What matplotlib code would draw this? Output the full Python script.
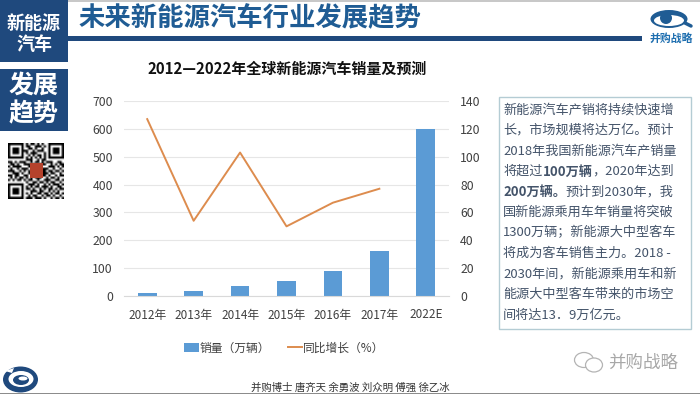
import numpy as np
import matplotlib
matplotlib.use('Agg')
import matplotlib.pyplot as plt
from matplotlib.patches import Rectangle, Ellipse, Circle, Polygon

plt.rcParams['font.family'] = ['Noto Sans CJK SC', 'DejaVu Sans']

years = ['2012年', '2013年', '2014年', '2015年', '2016年', '2017年', '2022E']
sales = [10, 18, 36, 54, 91, 162, 600]
growth = [127, 54, 103, 50, 67, 77]
left_ticks = [0, 100, 200, 300, 400, 500, 600, 700]
right_ticks = [0, 20, 40, 60, 80, 100, 120, 140]

body_lines = [
    '新能源汽车产销将持续快速增',
    '长，市场规模将达万亿。预计',
    '2018年我国新能源汽车产销量',
    '将超过$$100万辆$$，2020年达到',
    '$$200万辆。$$预计到2030年，我',
    '国新能源乘用车年销量将突破',
    '1300万辆；新能源大中型客车',
    '将成为客车销售主力。2018 -',
    '2030年间，新能源乘用车和新',
    '能源大中型客车带来的市场空',
    '间将达13．9万亿元。',
]

# rough module pattern of the qr code, 1 = dark
qr_rows = [
    '1111111010110101001111111',
    '1000001011001110101000001',
    '1011101001101001001011101',
    '1011101110010111001011101',
    '1011101010111000101011101',
    '1000001001010110101000001',
    '1111111010101010101111111',
    '0000000011100101100000000',
    '1101011100101101011100110',
    '0110100111010011100101011',
    '1011110001101110001110101',
    '0100101110011111110010010',
    '1110010101011111101101101',
    '0011101001111111110110010',
    '1101100110011111101001011',
    '0101011010101110010110100',
    '1010110101100100111001101',
    '0000000010011011010110010',
    '1111111001110100101011101',
    '1000001010101101110100110',
    '1011101011010010101101011',
    '1011101000111011001010100',
    '1011101010100110110101101',
    '1000001001011001011010010',
    '1111111011101110100101101',
]

BLUE = '#1f497d'
TEXT = '#44546a'
GREY = '#b4b4b4'

fig = plt.figure(figsize=(7, 3.94), dpi=100)
W, H = 700, 394


def px_axes(x0, y0, x1, y1):
    # axes placed by pixel box, y counted from the top
    return fig.add_axes([x0 / W, 1 - y1 / H, (x1 - x0) / W, (y1 - y0) / H])


# slide layer, in pixel coordinates
bg = fig.add_axes([0, 0, 1, 1])
bg.axis('off')

bg.add_patch(Rectangle((0, 0), W, 1.5, color='#c8c8c8', lw=0))
bg.add_patch(Rectangle((0, 0), 68, 62, color=BLUE, lw=0))
bg.add_patch(Rectangle((0, 69), 68, 62, color=BLUE, lw=0))
bg.add_patch(Rectangle((68, 36), 574, 5, color=BLUE, lw=0))

bg.text(34, 23, '新能源', color='white', fontsize=13, fontweight='bold', ha='center', va='center')
bg.text(34, 44.5, '汽车', color='white', fontsize=13, fontweight='bold', ha='center', va='center')
bg.text(34, 86, '发展', color='white', fontsize=18, fontweight='bold', ha='center', va='center')
bg.text(34, 114, '趋势', color='white', fontsize=18, fontweight='bold', ha='center', va='center')
bg.text(79, 19, '未来新能源汽车行业发展趋势', color='#1f5c94', fontsize=19, fontweight='bold', va='center')
bg.text(287, 68.5, '2012—2022年全球新能源汽车销量及预测', color='#111111', fontsize=10.8,
        fontweight='bold', ha='center', va='center')

# qr code
qr = np.array([[int(c) for c in row] for row in qr_rows])
bg.imshow(1 - qr, cmap='gray', extent=(8, 64, 199, 143), interpolation='bilinear', aspect='auto', zorder=2)
bg.add_patch(Rectangle((30, 163), 13, 15, color='#b5422c', lw=0, zorder=3))

# eye logo, top right
bg.add_patch(Ellipse((669, 19), 37, 18, fc='#1f5c94', lw=0))
bg.add_patch(Ellipse((669, 20.5), 30, 11, fc='white', lw=0))
bg.add_patch(Circle((666, 18), 6, fc='#1f5c94', lw=0))
bg.plot([685, 691], [23, 26], color='#1f5c94', lw=2.5, solid_capstyle='round')
bg.text(671, 38.5, '并购战略', color='#1f6fb0', fontsize=7.8, fontweight='bold', ha='center', va='center')

# round logo, bottom left
bg.add_patch(Ellipse((20.5, 379.5), 35, 26, fc=BLUE, lw=0))
bg.add_patch(Ellipse((21, 379), 25, 16, fc='white', lw=0))
bg.add_patch(Ellipse((21, 380), 16, 10, fc=BLUE, lw=0))
bg.add_patch(Ellipse((23, 378.5), 9, 4, fc='white', lw=0))
bg.add_patch(Polygon([[5, 371], [14, 368], [12, 373]], fc='white', lw=0))

bg.add_patch(Rectangle((0, 392.5), W, 1.5, color='#8c8c8c', lw=0, zorder=4))
bg.text(350, 388, '并购博士 唐齐天 余勇波 刘众明 傅强 徐乙冰', color='#333333', fontsize=7.5,
        ha='center', va='center')

# text box
bg.add_patch(Rectangle((498.5, 97), 192, 231.5, fc='white', ec='#b4ccd4', lw=1))

# watermark
bg.add_patch(Ellipse((584, 360), 19, 15, fc='white', ec=GREY, lw=0.9))
bg.add_patch(Ellipse((594, 365), 17, 14, fc='white', ec=GREY, lw=0.9))
bg.text(678, 363, '并购战略', color='#a8a8a8', fontsize=12.6, ha='right', va='center')

bg.set_xlim(0, W)
bg.set_ylim(H, 0)

# chart
ax = px_axes(124, 101, 449, 296)
ax.set_facecolor('none')
x = np.arange(len(years))
bars = ax.bar(x, sales, width=0.4, color='#5b9bd5', label='销量（万辆）', zorder=2)
ax.set_xlim(-0.5, len(years) - 0.5)
ax.set_ylim(0, 700)
ax.set_yticks(left_ticks)
ax.set_xticks(x, years)
ax.grid(axis='y', color='#e6e6e6', lw=0.8, zorder=0)
ax.set_axisbelow(True)
ax.tick_params(length=0, labelsize=8.8, colors='#404040')
ax.tick_params(axis='x', pad=9, labelsize=8.5)
ax.tick_params(axis='y', pad=8)
for s in ['top', 'left', 'right']:
    ax.spines[s].set_visible(False)
ax.spines['bottom'].set_color('#d9d9d9')

ax2 = ax.twinx()
line, = ax2.plot(x[:len(growth)], growth, color='#dd8c4e', lw=1.4, label='同比增长（%）', zorder=3)
ax2.set_ylim(0, 140)
ax2.set_yticks(right_ticks)
ax2.tick_params(length=0, labelsize=8.8, colors='#404040', pad=8)
for s in ax2.spines.values():
    s.set_visible(False)

fig.legend(handles=[bars, line], loc='center', bbox_to_anchor=(284.5 / W, 1 - 348 / H), ncol=2,
           frameon=False, fontsize=8.5, labelcolor='#404040', columnspacing=1.5,
           handlelength=1.2, handletextpad=0.1)

# text box content, bold runs are marked with $$
renderer = fig.canvas.get_renderer()
for i, row in enumerate(body_lines):
    cx = 503
    y = 110 + i * 20.5
    for j, part in enumerate(row.split('$$')):
        if not part:
            continue
        t = bg.text(cx, y, part, fontsize=9.45, color=TEXT, va='center',
                    fontweight='bold' if j % 2 else 'normal')
        bb = t.get_window_extent(renderer)
        cx += bb.width

fig.savefig('out.png', dpi=100)
